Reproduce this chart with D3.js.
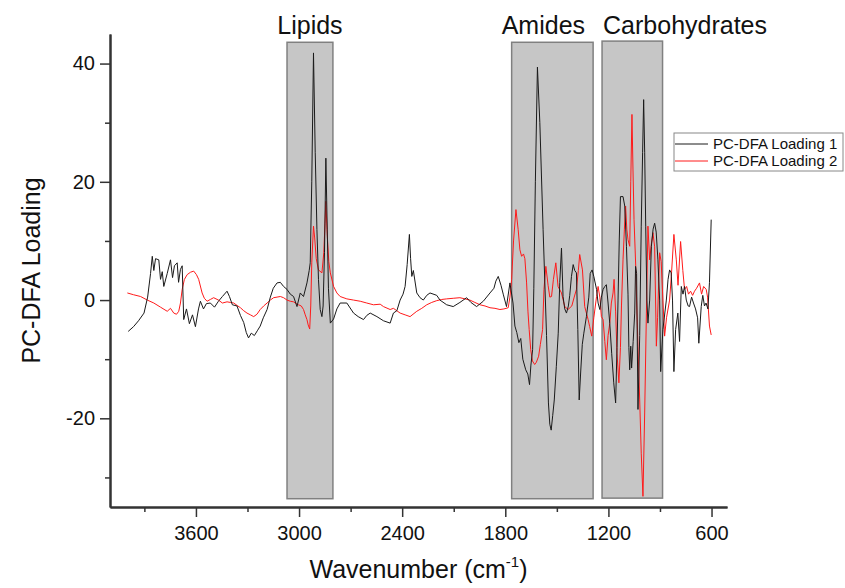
<!DOCTYPE html>
<html><head><meta charset="utf-8">
<script src="https://cdn.jsdelivr.net/npm/d3@7"></script>
<style>body{margin:0;background:#fff;}svg{display:block;font-family:"Liberation Sans",Arial,sans-serif;}</style>
</head><body>
<svg id="chart" width="845" height="588"></svg>
<script>
// ---- data ----
const regionNames = ["Lipids", "Amides", "Carbohydrates"];
const regionStart = [3070, 1763, 1237];
const regionEnd = [2803, 1289, 885];
const regionTop = [43.6, 43.6, 43.8];
const regionBottom = [-33.6, -33.6, -33.5];

const xMajorTicks = [3600, 3000, 2400, 1800, 1200, 600];
const xMinorTicks = [3900, 3300, 2700, 2100, 1500, 900];
const yMajorTicks = [-20, 0, 20, 40];
const yMinorTicks = [-30, -10, 10, 30];

const seriesNames = ["PC-DFA Loading 1", "PC-DFA Loading 2"];

const loading1 = [[3994,-5.3],[3963,-4.5],[3934,-3.5],[3902,-2.2],[3881,0.5],[3864,4.5],[3854,7.4],[3845,5.0],[3835,7.0],[3816,6.8],[3806,3.5],[3796,4.8],[3787,2.3],[3767,4.5],[3748,6.8],[3736,3.8],[3725,5.8],[3709,6.3],[3701,3.0],[3690,5.2],[3680,5.8],[3671,-3.3],[3655,-1.5],[3638,-4.0],[3620,-2.5],[3603,-4.5],[3585,-1.5],[3574,-0.2],[3556,-1.5],[3539,-0.6],[3516,-0.5],[3492,-1.2],[3469,-0.2],[3446,0.6],[3419,1.5],[3405,0.6],[3388,-0.8],[3361,-1.0],[3341,-2.6],[3322,-3.8],[3307,-5.5],[3294,-6.4],[3278,-5.6],[3260,-6.0],[3243,-5.2],[3226,-4.4],[3208,-3.0],[3186,-1.6],[3167,0.5],[3150,2.0],[3128,2.9],[3109,3.0],[3090,2.3],[3070,1.8],[3051,1.0],[3032,0.6],[3012,-1.1],[2993,1.2],[2974,0.6],[2954,2.9],[2941,5.0],[2935,6.3],[2926,20],[2916,41.8],[2906,25],[2896,11.9],[2887,3.5],[2877,-1.6],[2867,-2.8],[2860,-1.0],[2852,8.0],[2844,24.0],[2836,12.0],[2829,2.0],[2818,-3.9],[2799,-3.2],[2780,-1.5],[2761,-0.5],[2722,-0.5],[2683,-2.2],[2656,-2.8],[2625,-3.3],[2606,-2.6],[2586,-2.2],[2547,-2.8],[2509,-3.5],[2470,-3.9],[2451,-2.2],[2431,-1.8],[2412,0.0],[2395,1.0],[2383,2.3],[2371,6.0],[2358,11.1],[2351,7.0],[2344,4.0],[2335,5.0],[2315,1.2],[2296,0.4],[2277,0.0],[2257,0.8],[2238,1.2],[2199,0.8],[2180,0.0],[2141,-0.8],[2103,-1.1],[2064,-0.4],[2025,0.4],[2000,-0.4],[1967,-1.1],[1928,-0.2],[1889,1.2],[1866,2.0],[1855,3.2],[1841,4.0],[1825,2.5],[1812,1.0],[1793,-1.1],[1773,2.9],[1755,-0.5],[1744,-4.4],[1733,-5.5],[1721,-7.2],[1710,-6.5],[1698,-10],[1681,-11.8],[1669,-12.5],[1659,-14.3],[1651,-11],[1641,-8.4],[1634,2],[1625,20],[1613,39.4],[1599,30],[1580,11.9],[1560,-6],[1549,-17.4],[1541,-21],[1533,-22.0],[1524,-19.5],[1515,-16.9],[1503,-11.2],[1492,-5.6],[1483,3.0],[1473,8.8],[1464,0.6],[1454,-1.5],[1444,-2.2],[1433,-1.0],[1425,0.8],[1415,4.0],[1405,6.0],[1396,5.0],[1386,4.6],[1378,-5.0],[1370,-16.9],[1361,-12.0],[1352,-7.5],[1343,-5.6],[1328,-2.8],[1314,0.5],[1306,4.5],[1295,5.1],[1285,4.0],[1269,1.8],[1260,-0.5],[1250,-1.6],[1241,0.5],[1231,1.8],[1221,2.3],[1212,2.6],[1202,-0.5],[1192,-4.0],[1181,-9.0],[1169,-14.0],[1158,-17.4],[1150,-8],[1144,0.0],[1137,10],[1130,17.5],[1115,17.5],[1105,15.9],[1095,9.1],[1086,1.0],[1081,-8],[1076,-11.8],[1070,-7.8],[1065,-11.5],[1056,-7],[1047,-2.2],[1042,5.7],[1036,4.5],[1028,-18.5],[1018,-6],[1009,12.5],[1001,25],[995,33.9],[989,25],[983,12.5],[976,0],[970,-3.9],[960,0],[950,9.1],[940,12.0],[931,13.0],[922,11.5],[912,6.8],[902,0],[896,-12.1],[883,-5],[863,0],[853,3.5],[844,5.1],[835,4.6],[827,0],[819,-12.1],[809,-5],[796,-2.2],[786,-7],[776,2.3],[766,1.0],[757,2.3],[747,0],[736,-1],[728,-1.1],[716,0.5],[705,-0.5],[693,-1.5],[681,-3],[674,-7.3],[660,-1.1],[651,0.8],[641,-1.0],[632,-0.5],[621,-1.5],[612,3],[602,13.6]];

const loading2 = [[3999,1.2],[3963,0.9],[3922,0.6],[3883,0],[3845,-0.5],[3806,-1.2],[3767,-1.9],[3748,-1.4],[3729,-2.2],[3713,-2.4],[3700,-1.9],[3690,-0.5],[3680,1.8],[3667,3.5],[3651,4.3],[3632,4.7],[3613,4.9],[3597,4.3],[3584,3.5],[3564,1.2],[3551,0.3],[3535,-0.2],[3516,0.1],[3497,0.4],[3469,0],[3446,-0.5],[3419,-0.3],[3400,-0.4],[3380,-0.5],[3361,-0.9],[3341,-1.3],[3322,-1.8],[3303,-2.2],[3283,-2.5],[3264,-2.8],[3245,-2.4],[3226,-1.6],[3206,-1.0],[3186,-0.5],[3167,0],[3148,0.4],[3128,0.5],[3109,0.6],[3090,0.4],[3070,0],[3051,-0.2],[3032,-0.3],[3016,-0.6],[3003,-0.8],[2987,-1.0],[2974,-1.6],[2964,-2.5],[2954,-3.3],[2947,-4.2],[2938,-4.9],[2932,-1],[2926,6.3],[2916,12.5],[2909,10.5],[2900,7.0],[2887,5.1],[2867,4.6],[2856,8],[2849,13],[2844,16.7],[2836,11],[2827,6.5],[2818,4.6],[2799,2.3],[2780,1.2],[2761,0.6],[2722,0.2],[2683,0],[2644,-0.2],[2606,-0.5],[2567,-0.8],[2528,-0.7],[2509,-1.1],[2470,-1.6],[2451,-1.4],[2412,-2.2],[2383,-2.5],[2354,-2.8],[2337,-2.4],[2315,-1.9],[2286,-1.4],[2257,-0.8],[2228,-0.4],[2199,-0.1],[2170,0.1],[2141,0.2],[2103,0.3],[2064,0.4],[2035,0.2],[2006,0],[1977,-0.4],[1947,-0.8],[1918,-1.0],[1889,-1.3],[1860,-1.4],[1831,-1.6],[1808,-1.5],[1783,-1.3],[1773,0.5],[1763,3.5],[1752,10],[1738,15.3],[1725,11.9],[1715,8.5],[1705,7.4],[1694,7.8],[1686,7.0],[1676,2.9],[1668,-2],[1661,-5],[1652,-8.4],[1642,-10.3],[1629,-10.9],[1619,-10.5],[1606,-9.5],[1596,-7.5],[1583,-5],[1575,1.8],[1564,5.7],[1551,2.5],[1541,0.5],[1531,0.6],[1520,3.5],[1506,6.3],[1493,2.3],[1473,1.2],[1454,-1.1],[1435,-1.6],[1413,-1.0],[1399,0.5],[1386,1.8],[1375,5],[1367,7.7],[1351,5.1],[1338,-1.1],[1318,-3.3],[1309,-4.5],[1297,-6.1],[1285,-3],[1269,0.6],[1260,2.3],[1250,0.5],[1241,-2.8],[1231,-3.3],[1221,-7],[1212,-10.1],[1202,-6],[1192,-3.9],[1183,-0.5],[1173,1.2],[1167,3.5],[1158,-2],[1150,-9],[1139,-14.0],[1130,-8],[1124,-1],[1115,6.8],[1107,12],[1100,15.9],[1093,12],[1086,10.2],[1076,9.1],[1070,20],[1063,31.4],[1057,22],[1051,13.6],[1041,5.7],[1036,0],[1028,-7.8],[1018,-16.9],[1009,-25.9],[999,-33.2],[989,-19.1],[979,-2.2],[970,12.5],[960,6.8],[950,9.5],[941,11.4],[931,9.0],[921,-7.8],[914,-3],[902,8.0],[893,6.5],[883,0],[873,-6.1],[862,-3],[844,0],[834,4.0],[819,11.1],[805,6.8],[795,2.5],[780,9.9],[767,5.0],[757,1.8],[745,2.3],[734,1.0],[722,1.5],[710,0.8],[699,1.5],[687,2.0],[670,2.9],[658,1.0],[646,2.3],[631,1.8],[623,0.5],[612,-4.4],[602,-5.9]];

// ---- drawing ----
const svg = d3.select("#chart");
const mLeft = 110, mRight = 727, mTop = 34, mBottom = 507;
const x = d3.scaleLinear().domain([4100, 510]).range([mLeft, mRight]);
const y = d3.scaleLinear().domain([-35, 45]).range([mBottom, mTop]);

// shaded regions
const regions = regionNames.map((n, i) => ({name: n, s: regionStart[i], e: regionEnd[i], t: regionTop[i], b: regionBottom[i]}));
svg.append("g").selectAll("rect").data(regions).join("rect")
  .attr("x", d => x(d.s)).attr("width", d => x(d.e) - x(d.s))
  .attr("y", d => y(d.t)).attr("height", d => y(d.b) - y(d.t))
  .attr("fill", "#c6c6c6").attr("stroke", "#808080").attr("stroke-width", 1.5);

svg.append("g").selectAll("text").data(regions).join("text")
  .attr("x", (d, i) => i === 2 ? x(d.s) + 1 : (i === 1 ? (x(d.s) + x(d.e)) / 2 - 9 : (x(d.s) + x(d.e)) / 2))
  .attr("y", 34)
  .attr("text-anchor", (d, i) => i === 2 ? "start" : "middle")
  .attr("font-size", 25).attr("fill", "#111")
  .text(d => d.name);

// lines
const line = d3.line().x(d => x(d[0])).y(d => y(d[1]));
svg.append("path").datum(loading2).attr("d", line)
  .attr("fill", "none").attr("stroke", "#ff1a1a").attr("stroke-width", 1);
svg.append("path").datum(loading1).attr("d", line)
  .attr("fill", "none").attr("stroke", "#1a1a1a").attr("stroke-width", 1);

// axes
const axisColor = "#333";
const fmt = d => String(d);
const xAxis = svg.append("g").attr("transform", `translate(0,${mBottom})`)
  .call(d3.axisBottom(x).tickValues(xMajorTicks).tickSize(10).tickSizeOuter(0).tickFormat(fmt));
const xMinor = svg.append("g").attr("transform", `translate(0,${mBottom})`)
  .call(d3.axisBottom(x).tickValues(xMinorTicks).tickSize(5).tickSizeOuter(0).tickFormat(""));
const yAxis = svg.append("g").attr("transform", `translate(${mLeft},0)`)
  .call(d3.axisLeft(y).tickValues(yMajorTicks).tickSize(10).tickSizeOuter(0).tickFormat(fmt));
const yMinor = svg.append("g").attr("transform", `translate(${mLeft},0)`)
  .call(d3.axisLeft(y).tickValues(yMinorTicks).tickSize(5).tickSizeOuter(0).tickFormat(""));
[xAxis, xMinor, yAxis, yMinor].forEach(g => {
  g.select(".domain").attr("stroke", axisColor).attr("stroke-width", 2);
  g.selectAll(".tick line").attr("stroke", axisColor).attr("stroke-width", 1.5);
  g.selectAll(".tick text").attr("font-size", 20).attr("fill", "#111")
    .attr("font-family", "'Liberation Sans', Arial, sans-serif");
});
xAxis.selectAll(".tick text").attr("dy", "1.0em");
yAxis.selectAll(".tick text").attr("x", -15);

// axis titles
const xt = svg.append("text").attr("x", (mLeft + mRight) / 2).attr("y", 578)
  .attr("text-anchor", "middle").attr("font-size", 25).attr("fill", "#111");
xt.append("tspan").text("Wavenumber (cm");
xt.append("tspan").attr("font-size", 15).attr("dy", -11).text("-1");
xt.append("tspan").attr("dy", 11).text(")");

svg.append("text").attr("transform", `translate(40,${(mTop + mBottom) / 2}) rotate(-90)`)
  .attr("text-anchor", "middle").attr("font-size", 25).attr("fill", "#111")
  .text("PC-DFA Loading");

// legend
const lg = svg.append("g");
lg.append("rect").attr("x", 674).attr("y", 133).attr("width", 169).attr("height", 38)
  .attr("fill", "#fff").attr("stroke", "#888").attr("stroke-width", 1);
const colors = ["#1a1a1a", "#ff1a1a"];
seriesNames.forEach((n, i) => {
  lg.append("line").attr("x1", 675).attr("x2", 708).attr("y1", 144 + i * 17).attr("y2", 144 + i * 17)
    .attr("stroke", colors[i]).attr("stroke-width", 1);
  lg.append("text").attr("x", 713).attr("y", 149 + i * 17).attr("font-size", 15).attr("fill", "#111").text(n);
});
</script>
</body></html>
